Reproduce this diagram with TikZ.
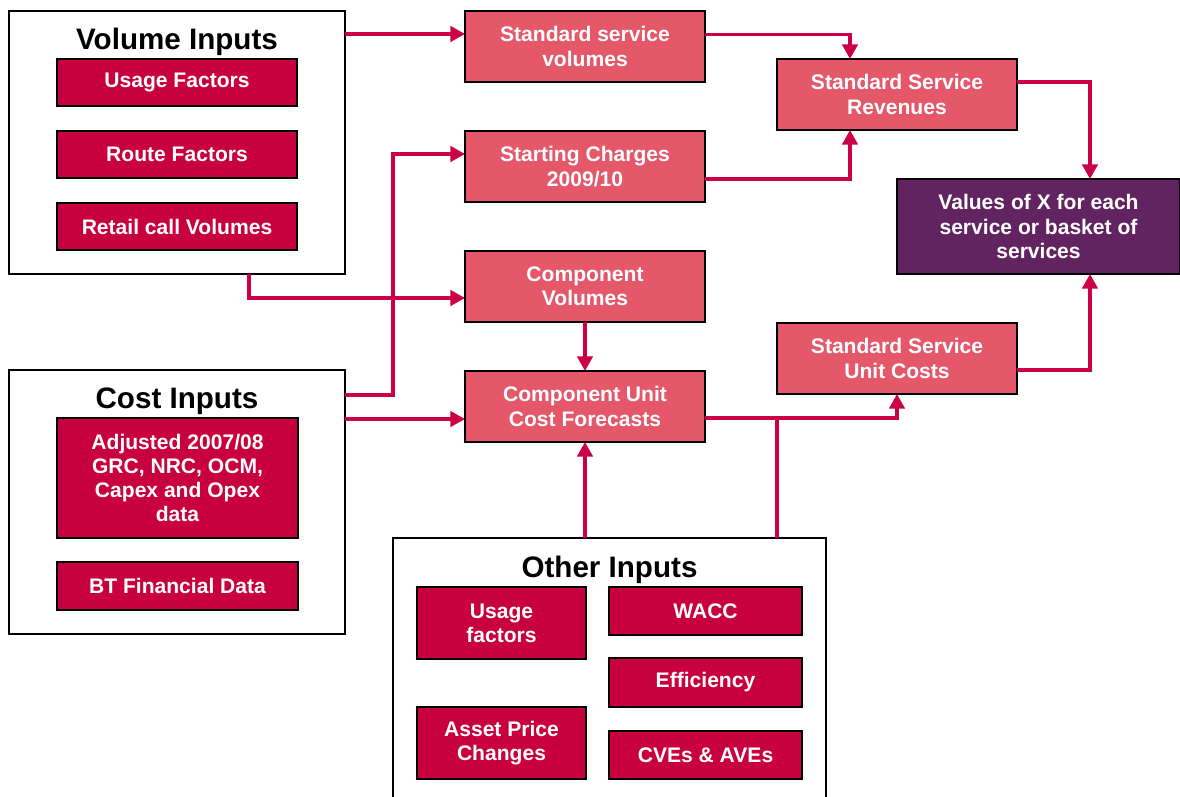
\documentclass[tikz,border=0pt]{standalone}
\usepackage{fontspec}
\setmainfont{Liberation Sans}
\usetikzlibrary{arrows.meta}
\definecolor{lightred}{RGB}{229,88,106}
\definecolor{darkred}{RGB}{200,0,63}
\definecolor{linkred}{RGB}{204,0,68}
\definecolor{plum}{RGB}{98,36,96}
\begin{document}
\begin{tikzpicture}[x=0.75pt,y=-0.75pt,
  every node/.style={inner sep=0pt, outer sep=0pt, font=\bfseries\fontsize{15.8}{18.2}\selectfont, align=center},
  group/.style={draw=black, line width=1.1pt, fill=white},
  grouptitle/.style={font=\bfseries\fontsize{22.2}{24}\selectfont, text=black},
  inbox/.style={draw=black, line width=1.1pt, fill=darkred, text=white},
  stagebox/.style={draw=black, line width=1.1pt, fill=lightred, text=white, minimum width=180pt, minimum height=53.25pt},
  resultbox/.style={draw=black, line width=1.1pt, fill=plum, text=white},
  link/.style={draw=linkred, line width=2.6pt},
  arr/.style={link, -{Triangle[width=11.5pt,length=11pt]}}]
\useasboundingbox (0,0) rectangle (1180,796);

% input groups
\node[group, minimum width=252pt, minimum height=197.25pt] (vol) at (177,142.5) {};
\node[grouptitle] (voltitle) at (177,41.5) {Volume Inputs};
\node[inbox, minimum width=180pt, minimum height=35.25pt] (usage) at (177,82.5) {Usage Factors};
\node[inbox, minimum width=180pt, minimum height=35.25pt] (route) at (177,154.5) {Route Factors};
\node[inbox, minimum width=180pt, minimum height=35.25pt] (retail) at (177,226.5) {Retail call Volumes};

\node[group, minimum width=252pt, minimum height=198pt] (cost) at (177,502) {};
\node[grouptitle] (costtitle) at (177,401.5) {Cost Inputs};
\node[inbox, minimum width=180.75pt, minimum height=90pt] (adj) at (177.5,478) {Adjusted 2007/08\\GRC, NRC, OCM,\\Capex and Opex\\data};
\node[inbox, minimum width=180.75pt, minimum height=36pt] (btfin) at (177.5,586) {BT Financial Data};

\node[group, minimum width=324.75pt, minimum height=196.5pt] (other) at (609.5,669) {};
\node[grouptitle] (othertitle) at (609.5,569.5) {Other Inputs};
\node[inbox, minimum width=126.75pt, minimum height=54pt] (usagef) at (501.5,623) {Usage\\factors};
\node[inbox, minimum width=126.75pt, minimum height=54pt] (asset) at (501.5,743) {Asset Price\\Changes};
\node[inbox, minimum width=144.75pt, minimum height=36pt] (wacc) at (705.5,611) {WACC};
\node[inbox, minimum width=144.75pt, minimum height=36.75pt] (eff) at (705.5,682.5) {Efficiency};
\node[inbox, minimum width=144.75pt, minimum height=36pt] (cve) at (705.5,755) {CVEs \& AVEs};

% calculation stages
\node[stagebox] (sv) at (585,46.5) {Standard service\\volumes};
\node[stagebox] (sc) at (585,166.5) {Starting Charges\\2009/10};
\node[stagebox] (cv) at (585,286.5) {Component\\Volumes};
\node[stagebox] (cuc) at (585,406.5) {Component Unit\\Cost Forecasts};
\node[stagebox] (rev) at (897,94.5) {Standard Service\\Revenues};
\node[stagebox] (ucost) at (897,358.5) {Standard Service\\Unit Costs};
\node[resultbox, minimum width=212.25pt, minimum height=71.25pt] (vx) at (1038.5,226.5) {Values of X for each\\service or basket of\\services};

% connection points
\coordinate (svin) at ([yshift=9.4pt]sv.west);
\coordinate (cucin) at ([yshift=-9.4pt]cuc.west);
\coordinate (cucout) at ([yshift=-8.6pt]cuc.east);
\coordinate (jn) at (ucost.west |- cucout);

% connectors
\draw[arr] (vol.east |- svin) -- (svin);
\draw[arr] ([yshift=9pt]sv.east) -| ([xshift=-35.25pt]rev.north);
\draw[arr] ([yshift=-9.4pt]sc.east) -| ([xshift=-35.25pt]rev.south);
\draw[arr] ([yshift=9.4pt]rev.east) -| ([xshift=38.6pt]vx.north);
\draw[arr] ([xshift=54pt]vol.south) |- ([yshift=-8.6pt]cv.west);
\draw[arr] ([yshift=80.25pt]cost.east) -- ++(48,0) |- ([yshift=9.4pt]sc.west);
\draw[arr] (cucin -| cost.east) -- (cucin);
\draw[arr] (cv.south) -- (cuc.north);
\draw[arr] (other.north -| cuc.south) -- (cuc.south);
\draw[arr] (cucout) -| (ucost.south);
\draw[link] (other.north -| jn) -- (jn);
\draw[arr] ([yshift=-8.6pt]ucost.east) -| ([xshift=38.6pt]vx.south);
\end{tikzpicture}
\end{document}
